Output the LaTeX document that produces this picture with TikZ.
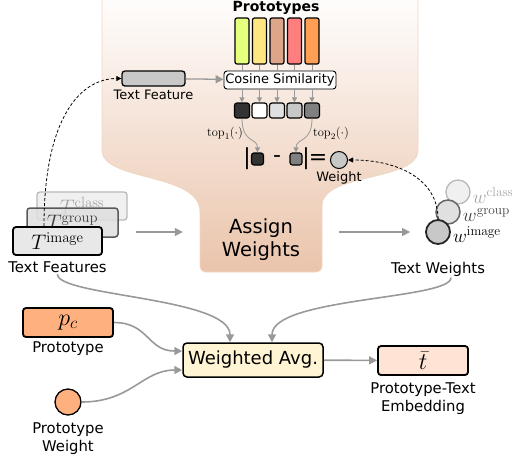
\documentclass[tikz,border=0pt]{standalone}
\usepackage{fix-cm}
\usepackage[no-math]{fontspec}
\newfontfamily\dejavu{DejaVu Sans}
\usetikzlibrary{arrows.meta,positioning}
\definecolor{funnel}{RGB}{234,196,171}
\definecolor{funneledge}{RGB}{240,214,196}
\definecolor{arrowgray}{RGB}{153,153,153}
\definecolor{protoA}{RGB}{229,255,127}
\definecolor{protoB}{RGB}{255,230,128}
\definecolor{protoC}{RGB}{222,166,136}
\definecolor{protoD}{RGB}{255,127,127}
\definecolor{protoE}{RGB}{255,159,85}
\definecolor{simA}{RGB}{51,51,51}
\definecolor{simC}{RGB}{224,224,224}
\definecolor{simD}{RGB}{200,200,200}
\definecolor{simE}{RGB}{128,128,128}
\definecolor{featgray}{RGB}{200,200,200}
\definecolor{avgfill}{RGB}{255,245,213}
\definecolor{pcfill}{RGB}{255,176,127}
\definecolor{tbarfill}{RGB}{255,228,214}
\begin{document}
\begin{tikzpicture}[x=1pt,y=-1pt,
    lbl/.style={font=\dejavu\fontsize{14.8}{17.5}\selectfont, inner sep=1pt, align=center},
    small/.style={font=\dejavu\fontsize{13}{15}\selectfont, inner sep=1pt},
    mathT/.style={font=\fontsize{21}{24}\selectfont},
    mathw/.style={font=\fontsize{19}{22}\selectfont},
    mathbig/.style={font=\fontsize{24}{26}\selectfont},
    formula/.style={font=\dejavu\fontsize{22}{24}\selectfont, inner sep=0pt},
    featbox/.style={draw, rounded corners=3pt, line width=1.5pt, inner sep=0pt},
    protobar/.style={draw, rounded corners=2pt, line width=1.2pt, minimum width=14pt, minimum height=46pt, inner sep=0pt},
    simsq/.style={draw, rounded corners=2.5pt, line width=1.2pt, minimum size=15pt, inner sep=0pt},
    wcirc/.style={circle, draw, minimum size=24pt, inner sep=0pt},
    garrow/.style={draw=arrowgray, line width=1.6pt, -{Triangle[length=8pt,width=8pt]}},
    thinarrow/.style={draw=arrowgray, line width=1pt, -{Triangle[length=5pt,width=5pt]}},
    darrow/.style={draw=black, line width=0.8pt, dash pattern=on 3pt off 2pt, -{Triangle[length=5pt,width=5pt]}}]
\useasboundingbox (0,0) rectangle (519,459);

% funnel
\shade[top color=white, middle color=funnel!40, bottom color=funnel, draw=funneledge, line width=0.8pt]
  (102,-10) -- (102,150) .. controls (102,182) and (200,172) .. (200,212)
  [rounded corners=6pt] -- (200,272) -- (322,272) -- (322,212) [sharp corners]
  .. controls (322,172) and (418,182) .. (418,150) -- (418,-10) -- cycle;

\node[font=\dejavu\bfseries\fontsize{14}{15}\selectfont, inner sep=0pt] (ptitle) at (276,8) {Prototypes};
\node[draw, rounded corners=3pt, line width=0.9pt, fill=white, minimum width=112pt, minimum height=18pt,
      inner sep=0pt, font=\dejavu\fontsize{13}{15}\selectfont] (cos) at (280,80) {Cosine Similarity};
\foreach \c [count=\i] in {protoA,protoB,protoC,protoD,protoE}
  \node[protobar, fill=\c] (p\i) at ({224.5+17.5*\i},41) {};
\foreach \c [count=\i] in {simA,white,simC,simD,simE}{
  \node[simsq, fill=\c] (s\i) at ({224.5+17.5*\i},110.5) {};
  \draw[arrowgray, line width=1pt] (p\i.south) -- (p\i.south |- cos.north);
  \draw[thinarrow] (p\i.south |- cos.south) -- (s\i.north);
}

\node[featbox, fill=featgray, line width=1.3pt, minimum width=63pt, minimum height=15pt] (tf) at (153.5,78.5) {};
\node[small, below=2pt of tf] (tflbl) {Text Feature};
\draw[garrow, line width=1.3pt] (tf) -- (cos);

% |a - b| = w
\node[formula] (barL) at (247,159) {|};
\node[simsq, minimum size=12pt, fill=simA] (q1) at (257.5,159) {};
\node[formula] (minus) at (277,159) {-};
\node[simsq, minimum size=12pt, fill=simE] (q2) at (296,159) {};
\node[formula] (barR) at (306,159) {|};
\node[formula] (eq) at (318,159) {=};
\node[circle, draw, line width=1pt, fill=featgray, minimum size=17pt, inner sep=0pt] (wt) at (339,160) {};
\node[small, below=1pt of wt] (wtlbl) {Weight};
\draw[thinarrow, line width=0.8pt] (s1.south) .. controls +(0,25) and +(0,-15) .. (q1.north);
\draw[thinarrow, line width=0.8pt] (s5.south) .. controls +(0,25) and +(0,-15) .. (q2.north);
\node[font=\fontsize{12.5}{14}\selectfont] (top1) at (225,133) {$\mathrm{top}_1(\cdot)$};
\node[font=\fontsize{12.5}{14}\selectfont] (top2) at (331,133) {$\mathrm{top}_2(\cdot)$};

% text features
\node[featbox, draw=gray!55, fill=gray!15, fill opacity=0.8, text opacity=1, text=gray!70, line width=1.3pt,
      minimum width=90pt, minimum height=28pt, mathT] (tclass) at (82,206) {$T^{\mathrm{class}}$};
\node[featbox, draw=black!65, fill=gray!25, fill opacity=0.85, text opacity=1, text=black!75, line width=1.5pt,
      minimum width=91pt, minimum height=29pt, mathT] (tgroup) at (72.5,222.5) {$T^{\mathrm{group}}$};
\node[featbox, fill=gray!18, line width=1.8pt, minimum width=89pt, minimum height=28pt, mathT] (timage) at (57.5,241) {$T^{\mathrm{image}}$};
\node[lbl, below=5pt of timage] (tfs) {Text Features};

\node[font=\dejavu\fontsize{19.5}{23}\selectfont, align=center, minimum width=122pt, inner sep=0pt] (aw) at (261,240) {Assign\\Weights};

% text weights
\node[wcirc, draw=gray!55, fill=gray!15, fill opacity=0.8, line width=1.3pt] (wclass) at (458,192) {};
\node[wcirc, draw=black!60, fill=gray!28, fill opacity=0.85, line width=1.5pt] (wgroup) at (448,212) {};
\node[wcirc, draw=black!85, fill=featgray, line width=1.8pt] (wimage) at (438,232) {};
\node[mathw, text=gray!70, anchor=west, inner sep=2pt] (wclbl) at ([yshift=-3pt]wclass.east) {$w^{\mathrm{class}}$};
\node[mathw, text=black!75, anchor=west, inner sep=2pt] (wglbl) at ([yshift=-3pt]wgroup.east) {$w^{\mathrm{group}}$};
\node[mathw, anchor=west, inner sep=2pt] (wilbl) at ([yshift=-3pt]wimage.east) {$w^{\mathrm{image}}$};
\node[lbl, below=16pt of wimage] (twl) {Text Weights};

\draw[garrow] ([xshift=17pt]tgroup.east |- wimage) -- ([xshift=-17pt]aw.west |- wimage);
\draw[garrow] ([xshift=17pt]aw.east |- wimage) -- ([xshift=-15pt]wimage.west);

\draw[darrow] ([xshift=-13.5pt]timage.north) .. controls +(0,-110) and +(-40,0) .. (tf.west);
\draw[darrow] (wimage.north) .. controls +(0,-40) and +(50,0) .. (wt.east);

% weighted average
\node[draw, rounded corners=4pt, line width=1.5pt, fill=avgfill, minimum width=140pt, minimum height=34pt,
      inner sep=0pt, font=\dejavu\fontsize{18}{20}\selectfont] (avg) at (253,360) {Weighted Avg.};
\node[featbox, fill=pcfill, line width=1.8pt, minimum width=90pt, minimum height=29pt, mathbig] (pc) at (68,322.5) {$p_c$};
\node[lbl, below=3pt of pc] (pclbl) {Prototype};
\node[circle, draw, line width=1.3pt, fill=pcfill, minimum size=26pt, inner sep=0pt] (pw) at (68,402) {};
\node[lbl, below=6pt of pw] (pwlbl) {Prototype\\Weight};
\node[featbox, fill=tbarfill, line width=1.8pt, minimum width=90pt, minimum height=29pt, mathbig] (tbar) at (423,360.5) {$\bar{t}$};
\node[lbl, below=6pt of tbar] (tbarlbl) {Prototype-Text\\Embedding};

\draw[garrow] (tfs.south) .. controls +(0,22) and +(0,-45) .. ([xshift=-23pt]avg.north);
\draw[garrow] ([xshift=13pt]twl.south) .. controls +(0,22) and +(0,-45) .. ([xshift=19pt]avg.north);
\draw[garrow] (pc.east) .. controls +(35,0) and +(-35,0) .. ([yshift=9pt]avg.west);
\draw[garrow] (pw.east) .. controls +(50,0) and +(-40,0) .. ([yshift=-10pt]avg.west);
\draw[garrow] (avg) -- (tbar);
\end{tikzpicture}
\end{document}
